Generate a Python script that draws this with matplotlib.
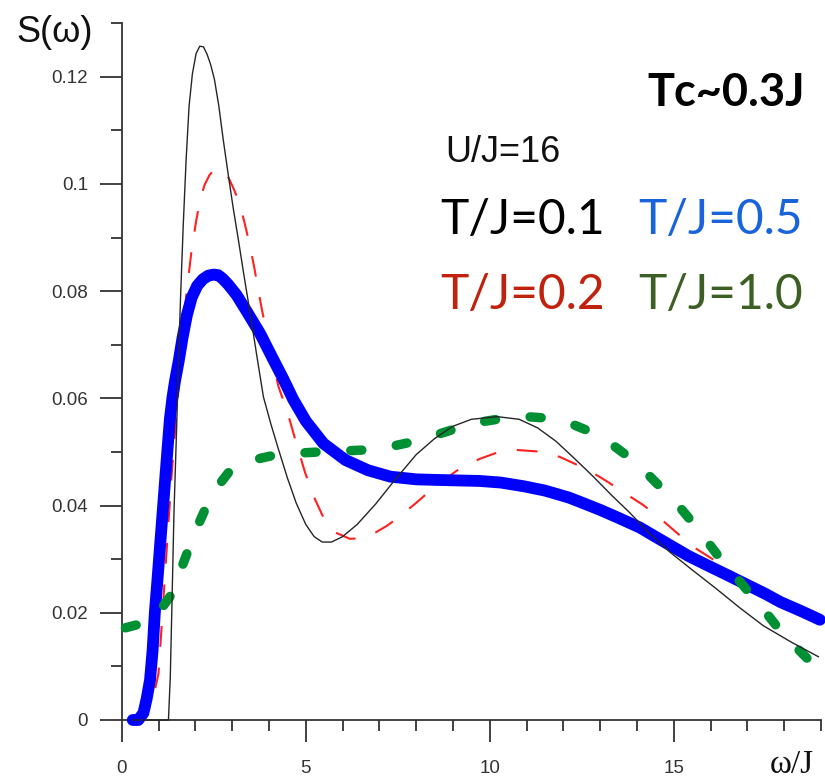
import matplotlib
matplotlib.use("Agg")
import matplotlib.pyplot as plt
from matplotlib.ticker import FixedLocator, MultipleLocator

plt.rcParams["lines.scale_dashes"] = False

# ---- spectral function S(omega) for U/J = 16 at four temperatures ----
w_t01 = [0.3, 1.27, 1.32, 1.36, 1.42, 1.49, 1.54, 1.60, 1.67, 1.75, 1.83, 1.92,
         2.02, 2.12, 2.22, 2.32, 2.42, 2.52, 2.64, 2.76, 2.90, 3.03, 3.17, 3.33,
         3.49, 3.67, 3.85, 4.05, 4.26, 4.50, 4.74, 5.00, 5.23, 5.45, 5.70, 6.00,
         6.40, 6.90, 7.40, 8.00, 8.50, 9.00, 9.50, 10.20, 10.80, 11.30, 11.80,
         12.30, 12.80, 13.30, 13.80, 14.30, 14.90, 15.50, 16.08, 16.80, 17.43,
         18.20, 18.93]
s_t01 = [0.0, 0.0, 0.008, 0.020, 0.0386, 0.054, 0.066, 0.079, 0.092, 0.1045,
         0.1145, 0.1205, 0.1243, 0.1257, 0.1256, 0.1242, 0.1222, 0.1195, 0.1145,
         0.1082, 0.1015, 0.0955, 0.0896, 0.0826, 0.0759, 0.068, 0.0603, 0.0553,
         0.0505, 0.0452, 0.0405, 0.0365, 0.0342, 0.0332, 0.0332, 0.0342, 0.0365,
         0.0403, 0.0446, 0.0495, 0.0525, 0.0548, 0.0561, 0.0566, 0.0561, 0.0545,
         0.052, 0.0488, 0.0455, 0.042, 0.0387, 0.0351, 0.0313, 0.028, 0.0249,
         0.0209, 0.0176, 0.0145, 0.0118]

w_t02 = [0.3, 0.6, 0.8, 0.9, 1.0, 1.09, 1.18, 1.27, 1.36, 1.45, 1.6, 1.75, 1.9,
         2.02, 2.13, 2.25, 2.38, 2.5, 2.63, 2.76, 2.9, 3.03, 3.17, 3.33, 3.49,
         3.6, 3.71, 3.82, 3.94, 4.1, 4.26, 4.5, 4.75, 4.99, 5.25, 5.48, 5.8, 6.2,
         6.5, 6.9, 7.2, 7.54, 8.0, 8.5, 9.1, 9.72, 10.2, 10.69, 11.3, 11.9, 12.5,
         12.9, 13.12, 13.7, 14.17, 14.6, 15.17, 15.6, 16.08, 16.6, 17.2, 17.9,
         18.5, 19.0]
s_t02 = [0.0, 0.001, 0.003, 0.0055, 0.0087, 0.018, 0.0274, 0.0367, 0.046, 0.054,
         0.067, 0.079, 0.0877, 0.093, 0.097, 0.0998, 0.1016, 0.1026, 0.1029,
         0.1025, 0.1012, 0.0993, 0.097, 0.093, 0.0883, 0.0845, 0.0802, 0.0762,
         0.0722, 0.067, 0.0622, 0.0575, 0.0515, 0.046, 0.0412, 0.0378, 0.0350,
         0.0338, 0.0339, 0.0350, 0.0362, 0.0379, 0.0405, 0.0435, 0.0465, 0.0487,
         0.0499, 0.0504, 0.0501, 0.0491, 0.0472, 0.0457, 0.0448, 0.0422, 0.0401,
         0.0378, 0.0344, 0.032, 0.0299, 0.0275, 0.0248, 0.0222, 0.0202, 0.0188]

w_t05 = [0.3, 0.45, 0.59, 0.68, 0.77, 0.84, 0.9, 0.97, 1.04, 1.11, 1.18, 1.25,
         1.31, 1.38, 1.45, 1.55, 1.65, 1.77, 1.9, 2.05, 2.2, 2.35, 2.5, 2.62,
         2.75, 2.9, 3.12, 3.4, 3.76, 4.1, 4.4, 4.66, 5.0, 5.48, 6.08, 6.69, 7.3,
         8.0, 8.5, 9.1, 9.72, 10.3, 10.93, 11.5, 12.15, 12.45, 13.0, 13.5, 14.08,
         14.5, 14.9, 15.4, 15.9, 16.35, 17.0, 17.5, 17.9, 18.5, 18.97]
s_t05 = [0.0, 0.0, 0.0013, 0.004, 0.0075, 0.013, 0.020, 0.026, 0.0323, 0.0385,
         0.0448, 0.051, 0.0562, 0.0602, 0.0633, 0.067, 0.0712, 0.0755, 0.0788,
         0.0810, 0.0822, 0.0829, 0.0831, 0.083, 0.0823, 0.0812, 0.0793, 0.0762,
         0.0721, 0.0675, 0.0635, 0.0598, 0.0558, 0.0516, 0.0485, 0.0466, 0.0454,
         0.0449, 0.0448, 0.0447, 0.0446, 0.0443, 0.0436, 0.0428, 0.0415, 0.0407,
         0.0392, 0.0377, 0.0359, 0.0342, 0.0326, 0.0306, 0.0289, 0.0274, 0.0252,
         0.0235, 0.022, 0.0202, 0.0187]

w_t10 = [0.1, 0.38, 0.59, 0.9, 1.1, 1.31, 1.55, 1.77, 2.0, 2.26, 2.6, 2.94, 3.5,
         4.14, 4.8, 5.35, 6.0, 6.69, 7.3, 7.9, 8.5, 9.1, 9.75, 10.39, 11.0, 11.6,
         12.2, 12.8, 13.3, 13.85, 14.3, 14.76, 15.2, 15.6, 16.0, 16.35, 16.8,
         17.2, 17.6, 17.97, 18.45, 18.9]
s_t10 = [0.0172, 0.0177, 0.018, 0.0195, 0.021, 0.023, 0.027, 0.031, 0.0352,
         0.0392, 0.0435, 0.0465, 0.0484, 0.0494, 0.0498, 0.050, 0.0502, 0.0504,
         0.051, 0.0519, 0.0531, 0.0544, 0.0556, 0.0563, 0.0566, 0.0563, 0.0553,
         0.0536, 0.0515, 0.0487, 0.0458, 0.0426, 0.0394, 0.0361, 0.0325, 0.0293,
         0.0258, 0.0225, 0.0192, 0.016, 0.0127, 0.0096]

x_major = [0, 5, 10, 15]
x_labels = ["0", "5", "10", "15"]
y_major = [0, 0.02, 0.04, 0.06, 0.08, 0.10, 0.12]
y_labels = ["0", "0.02", "0.04", "0.06", "0.08", "0.1", "0.12"]

W, H = 825, 780
fig = plt.figure(figsize=(W / 100, H / 100), dpi=100)


def fx(px):
    return px / W


def fy(py):
    return 1 - py / H


x0, x1, y0, y1 = 121.7, 821.0, 720.0, 23.2
ax = fig.add_axes([fx(x0), fy(y0), fx(x1) - fx(x0), fy(y1) - fy(y0)])
ax.set_xlim(0, 19)
ax.set_ylim(0, 0.13)

ax.plot(w_t02, s_t02, color="#ff2020", lw=1.5, dashes=(15, 15),
        zorder=2, clip_on=False)
ax.plot(w_t05, s_t05, color="#0000ff", lw=8.5, solid_capstyle="round",
        solid_joinstyle="round", zorder=3, clip_on=False)
ax.plot(w_t10, s_t10, color="#009034", lw=6.8, dashes=(8, 25),
        dash_capstyle="round", zorder=4, clip_on=False)
ax.plot(w_t01, s_t01, color="#262626", lw=1.0, zorder=5, clip_on=False)

for side in ("top", "right"):
    ax.spines[side].set_visible(False)
for side in ("left", "bottom"):
    ax.spines[side].set_color("#333333")
    ax.spines[side].set_linewidth(1.3)

ax.xaxis.set_major_locator(FixedLocator(x_major))
ax.xaxis.set_minor_locator(MultipleLocator(1))
ax.yaxis.set_major_locator(FixedLocator(y_major))
ax.yaxis.set_minor_locator(MultipleLocator(0.01))
ax.set_xticklabels(x_labels)
ax.set_yticklabels(y_labels)

ax.tick_params(which="major", direction="out", length=15.8, width=1.3,
               color="#333333", labelsize=13.5, labelcolor="#333333")
ax.tick_params(which="minor", direction="out", length=8, width=1.3,
               color="#333333")
ax.tick_params(axis="x", which="major", pad=13)
ax.tick_params(axis="y", which="major", pad=8.5)
for lab in ax.get_xticklabels() + ax.get_yticklabels():
    lab.set_fontfamily("Liberation Sans")

# axis titles
fig.text(fx(16), fy(42), "S(ω)", fontsize=26, family="Liberation Sans",
         color="#111111", va="baseline", ha="left")
fig.text(fx(814), fy(773), "ω/J", fontsize=24, family="Liberation Serif",
         color="#111111", va="baseline", ha="right")

# annotations
fig.text(fx(647), fy(106), "Tc~0.3J", fontsize=32.5, family="Lato",
         weight="bold", color="black", va="baseline", ha="left")
fig.text(fx(445), fy(162), "U/J=16", fontsize=26, family="Liberation Sans",
         color="#111111", va="baseline", ha="left")
fig.text(fx(440), fy(234), "T/J=0.1", fontsize=34.5, family="Lato",
         color="black", va="baseline", ha="left")
fig.text(fx(638), fy(234), "T/J=0.5", fontsize=34.5, family="Lato",
         color="#1a64db", va="baseline", ha="left")
fig.text(fx(440), fy(309), "T/J=0.2", fontsize=34.5, family="Lato",
         color="#c0220e", va="baseline", ha="left")
fig.text(fx(638), fy(309), "T/J=1.0", fontsize=34.5, family="Lato",
         color="#3c5f23", va="baseline", ha="left")

fig.savefig("out.png", dpi=100)
